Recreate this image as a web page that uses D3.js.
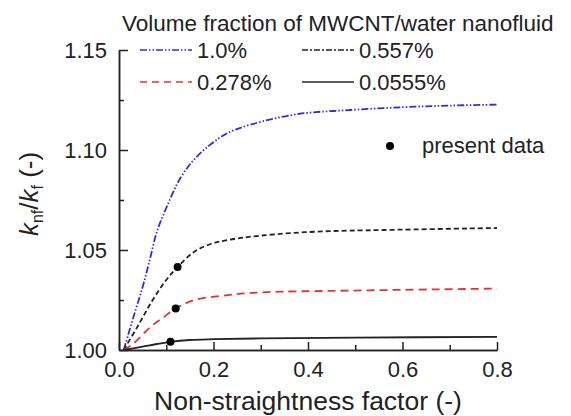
<!DOCTYPE html>
<html>
<head>
<meta charset="utf-8">
<script src="https://cdn.jsdelivr.net/npm/d3@7"></script>
<style>
	body { margin: 0; background: #fff; }
	svg { display: block; font-family: "Liberation Sans", Arial, sans-serif; }
</style>
</head>
<body>
<svg id="chart"></svg>
<script>
// tick values
const xTicks = [0, 0.2, 0.4, 0.6, 0.8];
const xMinor = [0.1, 0.3, 0.5, 0.7];
const yTicks = [1.00, 1.05, 1.10, 1.15];
const yMinor = [1.025, 1.075, 1.125];

// curves: [non-straightness factor, knf/kf]
const phi10 = [[0.01, 1.000], [0.03, 1.016], [0.05, 1.0315], [0.065, 1.045], [0.08, 1.059],
	[0.10, 1.071], [0.13, 1.086], [0.16, 1.0955], [0.195, 1.103], [0.23, 1.1085],
	[0.28, 1.1128], [0.38, 1.118], [0.49, 1.120], [0.60, 1.1214], [0.70, 1.1222], [0.80, 1.1227]];
const phi0557 = [[0.01, 1.000], [0.04, 1.012], [0.07, 1.0245], [0.10, 1.035], [0.124, 1.0415],
	[0.1585, 1.049], [0.194, 1.053], [0.23, 1.055], [0.30, 1.0572], [0.42, 1.0592],
	[0.56, 1.060], [0.80, 1.061]];
const phi0278 = [[0.01, 1.000], [0.032, 1.0035], [0.067, 1.0116], [0.095, 1.0165], [0.12, 1.0207],
	[0.1585, 1.0249], [0.23, 1.0274], [0.30, 1.0288], [0.49, 1.0297], [0.80, 1.0307]];
const phi00555 = [[0.01, 1.000], [0.05, 1.0017], [0.08, 1.003], [0.109, 1.0041], [0.15, 1.005],
	[0.20, 1.0054], [0.30, 1.0058], [0.50, 1.0062], [0.80, 1.0066]];

const seriesNames = ["1.0%", "0.557%", "0.278%", "0.0555%"];
const presentData = [[0.124, 1.0415], [0.12, 1.0207], [0.109, 1.0041]];

const svgWidth = 571;
const svgHeight = 416;
const margins = {top: 50, right: 74, bottom: 66, left: 119};

// line styles, same order as seriesNames
const styles = [
	{data: phi10, color: "#3030cc", dash: "7,2,1.5,2,1.5,2", legendDash: "7,2,1.5,2,1.5,2"},
	{data: phi0557, color: "#222", dash: "5,3", legendDash: "6,2,2,2"},
	{data: phi0278, color: "#e03535", dash: "8,5", legendDash: "7,5"},
	{data: phi00555, color: "#222", dash: null, legendDash: null}
];

const scaleX = d3.scaleLinear()
	.domain([0, 0.8])
	.range([margins.left, svgWidth - margins.right]);

const scaleY = d3.scaleLinear()
	.domain([1.0, 1.15])
	.range([svgHeight - margins.bottom, margins.top]);

const chart = d3.select("#chart")
	.attr("width", svgWidth)
	.attr("height", svgHeight);

const line = d3.line()
	.curve(d3.curveCatmullRom.alpha(0.5))
	.x(d => scaleX(d[0]))
	.y(d => scaleY(d[1]));

// curves
chart.append("g")
	.selectAll("path")
	.data(styles)
	.join("path")
	.attr("fill", "none")
	.attr("stroke", d => d.color)
	.attr("stroke-width", 1.8)
	.attr("stroke-dasharray", d => d.dash)
	.attr("d", d => line(d.data));

// present data dots
chart.append("g")
	.selectAll("circle")
	.data(presentData)
	.join("circle")
	.attr("cx", d => scaleX(d[0]))
	.attr("cy", d => scaleY(d[1]))
	.attr("r", 4)
	.attr("fill", "#000");

const styleAxis = g => {
	g.select(".domain").attr("stroke", "#222").attr("stroke-width", 1.5);
	g.selectAll(".tick line").attr("stroke", "#222").attr("stroke-width", 1.5);
	g.selectAll("text").attr("fill", "#222").attr("font-size", 22).attr("font-family", null);
};

// x-axis, ticks pointing inward
const xAxisY = svgHeight - margins.bottom;
chart.append("g")
	.attr("transform", `translate(0, ${xAxisY})`)
	.call(d3.axisBottom(scaleX).tickValues(xMinor).tickSize(-5).tickSizeOuter(0).tickFormat(""))
	.call(styleAxis);
chart.append("g")
	.attr("transform", `translate(0, ${xAxisY})`)
	.call(d3.axisBottom(scaleX).tickValues(xTicks).tickSize(-8).tickSizeOuter(0)
		.tickPadding(11).tickFormat(d3.format(".1f")))
	.call(styleAxis);

// y-axis
chart.append("g")
	.attr("transform", `translate(${margins.left}, 0)`)
	.call(d3.axisLeft(scaleY).tickValues(yMinor).tickSize(-5).tickSizeOuter(0).tickFormat(""))
	.call(styleAxis);
chart.append("g")
	.attr("transform", `translate(${margins.left}, 0)`)
	.call(d3.axisLeft(scaleY).tickValues(yTicks).tickSize(-9).tickSizeOuter(0)
		.tickPadding(12).tickFormat(d3.format(".2f")))
	.call(styleAxis);

// axis titles
chart.append("text")
	.attr("x", 308)
	.attr("y", 410)
	.attr("text-anchor", "middle")
	.attr("font-size", 26.5)
	.attr("fill", "#222")
	.text("Non-straightness factor (-)");

const yLabel = chart.append("text")
	.attr("transform", "translate(38, 194) rotate(-90)")
	.attr("text-anchor", "middle")
	.attr("font-size", 26)
	.attr("fill", "#222");
yLabel.append("tspan").attr("font-style", "italic").text("k");
yLabel.append("tspan").attr("font-size", 16).attr("dy", 5).text("nf");
yLabel.append("tspan").attr("dy", -5).text("/");
yLabel.append("tspan").attr("font-style", "italic").text("k");
yLabel.append("tspan").attr("font-size", 16).attr("dy", 5).text("f");
yLabel.append("tspan").attr("dy", -5).text(" (-)");

// legend
chart.append("text")
	.attr("x", 122)
	.attr("y", 31)
	.attr("font-size", 22.5)
	.attr("fill", "#222")
	.text("Volume fraction of MWCNT/water nanofluid");

const legendPos = [[140, 50], [302, 50], [140, 82], [302, 82]];
const legend = chart.append("g")
	.selectAll("g")
	.data(styles)
	.join("g")
	.attr("transform", (d, i) => `translate(${legendPos[i][0]}, ${legendPos[i][1]})`);

legend.append("line")
	.attr("x1", 0)
	.attr("x2", 52)
	.attr("stroke", d => d.color)
	.attr("stroke-width", 1.6)
	.attr("stroke-dasharray", d => d.legendDash);

legend.append("text")
	.attr("x", 57)
	.attr("y", 8)
	.attr("font-size", 22)
	.attr("fill", "#222")
	.text((d, i) => seriesNames[i]);

chart.append("circle")
	.attr("cx", 390)
	.attr("cy", 146)
	.attr("r", 4)
	.attr("fill", "#000");
chart.append("text")
	.attr("x", 422)
	.attr("y", 153)
	.attr("font-size", 22)
	.attr("fill", "#222")
	.text("present data");
</script>
</body>
</html>
